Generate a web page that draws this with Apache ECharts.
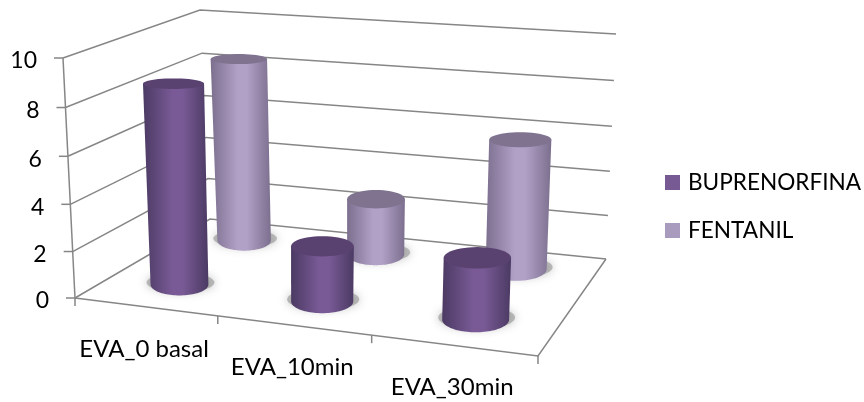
<!DOCTYPE html>
<html>
<head>
<meta charset="utf-8">
<style>
  html,body{margin:0;padding:0;background:#fff;}
  #chart{width:864px;height:402px;}
</style>
</head>
<body>
<div id="chart"></div>
<script src="https://cdn.jsdelivr.net/npm/echarts@6/dist/echarts.min.js"></script>
<script>
const categories = ['EVA_0 basal', 'EVA_10min', 'EVA_30min']
const yTicks = [0, 2, 4, 6, 8, 10]
const buprenorfina = [8.6, 2.35, 2.55]
const fentanil = [8.4, 2.55, 5.75]

// corners of the 3d box on screen: floor and the plane at value 10
const floorCorners = [[75, 298], [538, 356], [606, 259], [210, 219]]
const topCorners = [[63, 58], [547, 91], [616, 34], [200, 10]]
const FONT = 'Lato'
const LINE = '#868686'

const homography = (p) => {
  const [x0, y0] = p[0], [x1, y1] = p[1], [x2, y2] = p[2], [x3, y3] = p[3]
  const dx1 = x1 - x2, dx2 = x3 - x2, sx = x0 - x1 + x2 - x3
  const dy1 = y1 - y2, dy2 = y3 - y2, sy = y0 - y1 + y2 - y3
  const den = dx1 * dy2 - dx2 * dy1
  const g = (sx * dy2 - dx2 * sy) / den
  const h = (dx1 * sy - sx * dy1) / den
  const a = x1 - x0 + g * x1, b = x3 - x0 + h * x3
  const d = y1 - y0 + g * y1, e = y3 - y0 + h * y3
  return (u, w) => {
    const q = g * u + h * w + 1
    return [(a * u + b * w + x0) / q, (d * u + e * w + y0) / q]
  }
}
const floorMap = homography(floorCorners)
const topMap = homography(topCorners)

// u: 0..1 along categories, w: 0..1 into depth, v: 0..1 of the value axis
const project = (u, w, v) => {
  const a = floorMap(u, w), b = topMap(u, w)
  // upper ticks sit a little wider apart than the lower ones
  const s = v * (1 - 0.04 * (1 - v))
  return [a[0] + (b[0] - a[0]) * s, a[1] + (b[1] - a[1]) * s]
}
// scale position -> 0..1 inside the grid
const norm = (params, api, cat, val) => {
  const cs = params.coordSys
  const p = api.coord([cat, val])
  return [(p[0] - cs.x) / cs.width, (cs.y + cs.height - p[1]) / cs.height]
}
const lineEl = (pts, width) => ({
  type: 'polyline',
  shape: { points: pts },
  style: { stroke: LINE, lineWidth: width || 1.5, fill: null }
})
const ellipsePts = (c, rx, ry, from, to) => {
  const pts = []
  for (let i = 0; i <= 48; i++) {
    const t = from + (to - from) * i / 48
    pts.push([c[0] + rx * Math.cos(t), c[1] + ry * Math.sin(t)])
  }
  return pts
}

const renderFrame = (params, api) => {
  const val = api.value(0)
  const v = norm(params, api, 0, val)[1]
  const children = []
  const a = project(0, 0, v), b = project(0, 1, v), c = project(1, 1, v)
  children.push(lineEl([a, b, c]))
  children.push(lineEl([a, [a[0] - 9, a[1]]]))
  children.push({
    type: 'text',
    style: {
      text: String(val), x: a[0] - 26, y: a[1] + 3, align: 'right', verticalAlign: 'middle',
      fontFamily: FONT, fontSize: 23, fill: '#000'
    }
  })
  if (params.dataIndex === 0) {
    const d = project(1, 0, 0)
    children.push(lineEl([a, d, c]))
    children.push(lineEl([project(0, 0, 1), a]))
    for (let i = 0; i <= categories.length; i++) {
      const p = project(i / categories.length, 0, 0)
      children.push(lineEl([p, [p[0], p[1] + 8]]))
    }
    categories.forEach((name, i) => {
      const p = project((i + 0.5) / categories.length, 0, 0)
      children.push({
        type: 'text',
        style: {
          text: name, x: p[0] - 1, y: p[1] + 42, align: 'center', verticalAlign: 'middle',
          fontFamily: FONT, fontSize: 24, fill: '#000'
        }
      })
    })
  }
  return { type: 'group', children }
}

const cylinder = (depth, nudge, shade) => (params, api) => {
  const cat = api.value(0)
  const n = norm(params, api, cat, api.value(1))
  const u = n[0] + nudge, v = n[1]
  const base = project(u, depth, 0), top = project(u, depth, v)
  const left = project(u - 0.07, depth, v), right = project(u + 0.07, depth, v)
  const rx = (right[0] - left[0]) / 2
  const rxBase = (project(u + 0.07, depth, 0)[0] - project(u - 0.07, depth, 0)[0]) / 2
  const ryTop = rx * (0.38 - 0.24 * v)
  const ryBase = rxBase * 0.38
  const side = [[top[0] + rx, top[1]], [top[0] - rx, top[1]]]
    .concat(ellipsePts(base, rxBase, ryBase, Math.PI, 0))
  return {
    type: 'group',
    children: [
      {
        type: 'polygon',
        shape: { points: ellipsePts([base[0] + 1, base[1] - 2], rxBase + 5, ryBase - 1, 0, Math.PI * 2) },
        style: { fill: 'rgba(120,120,120,0.45)', shadowBlur: 10, shadowColor: 'rgba(110,110,110,0.9)' }
      },
      {
        type: 'polygon',
        shape: { points: side },
        style: {
          fill: new echarts.graphic.LinearGradient(0, 0, 1, 0, [
            { offset: 0, color: shade.edge },
            { offset: 0.45, color: shade.mid },
            { offset: 0.6, color: shade.mid },
            { offset: 1, color: shade.edge }
          ])
        }
      },
      {
        type: 'polygon',
        shape: { points: ellipsePts(top, rx, ryTop, 0, Math.PI * 2) },
        style: { fill: shade.cap }
      }
    ]
  }
}

const chart = echarts.init(document.getElementById('chart'))
chart.setOption({
  animation: false,
  backgroundColor: '#fff',
  grid: { left: 75, top: 58, width: 463, height: 240 },
  xAxis: { type: 'category', data: categories, show: false },
  yAxis: { type: 'value', min: 0, max: 10, interval: 2, show: false },
  legend: {
    orient: 'vertical',
    left: 665,
    top: 171,
    padding: 0,
    icon: 'rect',
    itemWidth: 15,
    itemHeight: 15,
    itemGap: 25,
    data: ['BUPRENORFINA', 'FENTANIL'],
    textStyle: { fontFamily: FONT, fontSize: 22.6, color: '#000', padding: [0, 0, 0, 3] }
  },
  series: [
    {
      name: 'frame',
      type: 'custom',
      renderItem: renderFrame,
      data: yTicks.map((t) => [t]),
      silent: true,
      z: 1
    },
    {
      name: 'FENTANIL',
      type: 'custom',
      renderItem: cylinder(0.78, -0.007, { edge: '#7c6f8e', mid: '#b1a1c7', cap: '#7f7390' }),
      data: fentanil.map((val, i) => [i, val]),
      encode: { x: 0, y: 1 },
      itemStyle: { color: '#a99bbd' },
      z: 2
    },
    {
      name: 'BUPRENORFINA',
      type: 'custom',
      renderItem: cylinder(0.24, 0, { edge: '#4b3a63', mid: '#795a96', cap: '#5a4270' }),
      data: buprenorfina.map((val, i) => [i, val]),
      encode: { x: 0, y: 1 },
      itemStyle: { color: '#775a94' },
      z: 3
    }
  ]
})
</script>
</body>
</html>
